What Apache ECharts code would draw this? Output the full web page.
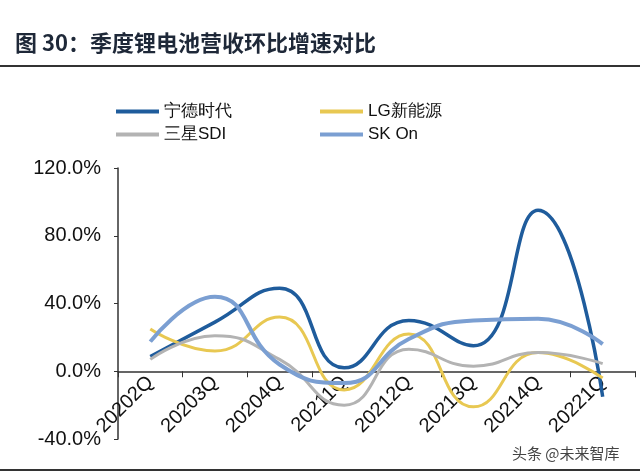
<!DOCTYPE html>
<html><head><meta charset="utf-8">
<script src="https://cdn.jsdelivr.net/npm/echarts@6/dist/echarts.min.js"></script>
<style>html,body{margin:0;padding:0;background:#fff}#c{width:640px;height:474px}</style>
</head><body><div id="c"></div>
<script>
const categories = ['20202Q','20203Q','20204Q','20211Q','20212Q','20213Q','20214Q','20221Q'];
const catl = [8.7, 29, 49, 2, 30, 15, 95, -15];
const lg = [25, 12, 32, -11, 22, -21, 11, -4];
const sdi = [7, 21, 7, -20, 13, 3, 11, 4.5];
const skon = [17.5, 44, 4, -7, 19, 30, 31, 16];
const yTicks = [-40, 0, 40, 80, 120];

const chart = echarts.init(document.getElementById('c'));
const font = 'Liberation Sans, Arial, sans-serif';
const gridTop = 168, gridBottom = 35, H = 474;
const plotH = H - gridTop - gridBottom;
const yMin = yTicks[0], yMax = yTicks[yTicks.length-1];
const zeroOffset = -plotH * (0 - yMin) / (yMax - yMin);
function s(name, data, color, w) {
  return {name, type:'line', data, smooth:0.5, symbol:'none', lineStyle:{color, width:w}, itemStyle:{color}};
}
chart.setOption({
  animation:false,
  backgroundColor:'#fff',
  graphic:[
    {type:'text', left:15, top:32, style:{text:'图 30：季度锂电池营收环比增速对比', font:'bold 22px "Noto Sans CJK SC", sans-serif', fill:'#1e2838'}},
    {type:'rect', shape:{x:0, y:65, width:640, height:2}, style:{fill:'#333'}},
    {type:'rect', shape:{x:0, y:469, width:640, height:2}, style:{fill:'#333'}},
    {type:'text', left:512, top:446, z:100, style:{text:'头条 @未来智库', font:'15px "Noto Sans CJK SC", sans-serif', fill:'#444'}}
  ],
  legend:[
    {data:['宁德时代','三星SDI'], orient:'vertical', left:111, top:98, itemWidth:43, itemHeight:4, itemGap:6, icon:'rect',
     textStyle:{fontSize:17, color:'#111', fontFamily:font}},
    {data:['LG新能源','SK On'], orient:'vertical', left:315, top:98, itemWidth:43, itemHeight:4, itemGap:6, icon:'rect',
     textStyle:{fontSize:17, color:'#111', fontFamily:font}}
  ],
  grid:{left:118, right:5, top:gridTop, bottom:gridBottom, containLabel:false, outerBoundsMode:'none'},
  xAxis:{type:'category', data:categories, boundaryGap:true, position:'bottom', offset:zeroOffset,
    axisLine:{onZero:false, lineStyle:{color:'#333', width:1.5}},
    axisTick:{show:true, length:6, lineStyle:{color:'#333'}},
    axisLabel:{rotate:45, fontSize:20, color:'#111', fontFamily:font, margin:8}},
  yAxis:{type:'value', min:yMin, max:yMax, interval:40,
    axisLine:{show:true, lineStyle:{color:'#333', width:1.5}},
    axisTick:{show:true, length:4, lineStyle:{color:'#333'}},
    splitLine:{show:false},
    axisLabel:{fontSize:20, color:'#111', fontFamily:font, margin:17, formatter:v=>v.toFixed(1)+'%'}},
  series:[
    s('宁德时代', catl, '#1f5c9c', 3.5),
    s('LG新能源', lg, '#e8c852', 3),
    s('三星SDI', sdi, '#b3b3b3', 3),
    s('SK On', skon, '#7b9fd2', 4)
  ]
});
</script></body></html>
